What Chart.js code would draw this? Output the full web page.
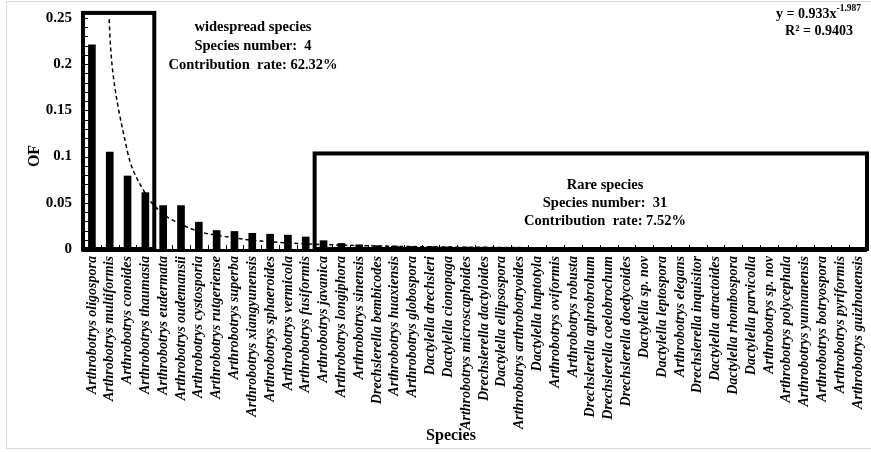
<!DOCTYPE html>
<html>
<head>
<meta charset="utf-8">
<script src="https://cdn.jsdelivr.net/npm/chart.js@4.4.1/dist/chart.umd.min.js"></script>
<style>
html,body{margin:0;padding:0;background:#fff;}
#wrap{width:871px;height:452px;position:relative;}
</style>
</head>
<body>
<div id="wrap"><canvas id="c" width="871" height="452"></canvas></div>
<script>
// ---- data ----
const species = [
  'Arthrobotrys oligospora','Arthrobotrys multiformis','Arthrobotrys conoides','Arthrobotrys thaumasia',
  'Arthrobotrys eudermata','Arthrobotrys oudemansii','Arthrobotrys cystosporia','Arthrobotrys rutgeriense',
  'Arthrobotrys superba','Arthrobotrys xiangyunensis','Arthrobotrys sphaeroides','Arthrobotrys vermicola',
  'Arthrobotrys fusiformis','Arthrobotrys javanica','Arthrobotrys longiphora','Arthrobotrys sinensis',
  'Drechslerella bembicodes','Arthrobotrys huaxiensis','Arthrobotrys globospora','Dactylella drechsleri',
  'Dactylella cionopaga','Arthrobotrys microscaphoides','Drechslerella dactyloides','Dactylella ellipsospora',
  'Arthrobotrys arthrobotryoides','Dactylella haptotyla','Arthrobotrys oviformis','Arthrobotrys robusta',
  'Drechslerella aphrobrohum','Drechslerella coelobrochum','Drechslerella doedycoides','Dactylella sp. nov',
  'Dactylella leptospora','Arthrobotrys elegans','Drechslerella inquisitor','Dactylella atractoides',
  'Dactylella rhombospora','Dactylella parvicolla','Arthrobotrys sp. nov','Arthrobotrys polycephala',
  'Arthrobotrys yunnanensis','Arthrobotrys botryospora','Arthrobotrys pyriformis','Arthrobotrys guizhouensis'
];
const ofValues = [
  0.221, 0.105, 0.079, 0.061, 0.047, 0.047, 0.029, 0.020, 0.019, 0.017, 0.016, 0.015,
  0.013, 0.009, 0.006, 0.0045, 0.0036, 0.0031, 0.0028, 0.0026, 0.0023, 0.0021, 0.0019, 0.0017,
  0.0016, 0.0014, 0.0013, 0.0012, 0.0011, 0.0010, 0.0009, 0.0009, 0.0008, 0.0007, 0.0007, 0.0006,
  0.0006, 0.0005, 0.0005, 0.0004, 0.0004, 0.0003, 0.0003, 0.0003
];
// dashed power trendline, read at each category position
const trendValues = [
  0.93, 0.235, 0.105, 0.060, 0.038, 0.027, 0.019, 0.015, 0.012, 0.0095, 0.0078, 0.0066,
  0.0056, 0.0048, 0.0042, 0.0037, 0.0033, 0.0029, 0.0026, 0.0024, 0.0021, 0.0019, 0.0018, 0.0016,
  0.0015, 0.0014, 0.0013, 0.0012, 0.0011, 0.0010, 0.0010, 0.0009, 0.0009, 0.0008, 0.0008, 0.0007,
  0.0007, 0.0007, 0.0006, 0.0006, 0.0006, 0.0005, 0.0005, 0.0005
];
const yTickLabels = ['0', '0.05', '0.1', '0.15', '0.2', '0.25'];
const yTickValues = [0, 0.05, 0.1, 0.15, 0.2, 0.25];
const widespreadText = ['widespread species', 'Species number:  4', 'Contribution  rate: 62.32%'];
const rareText = ['Rare species', 'Species number:  31', 'Contribution  rate: 7.52%'];
const equationMain = 'y = 0.933x';
const equationExp = '-1.987';
const equationR2 = 'R\u00B2 = 0.9403';
const xTitle = 'Species';
const yTitle = 'OF';

const SERIF = '"Liberation Serif", "Times New Roman", serif';

const overlay = {
  id: 'overlay',
  afterDraw(chart) {
    const {ctx, chartArea: a, scales: {x, y}} = chart;
    const half = (x.getPixelForValue(1) - x.getPixelForValue(0)) / 2;
    const y0 = y.getPixelForValue(0);
    ctx.save();
    // outer light frame
    ctx.strokeStyle = '#d9d9d9';
    ctx.lineWidth = 1;
    ctx.strokeRect(6.5, 1.5, 900, 447);

    // axis lines
    ctx.strokeStyle = '#000';
    ctx.lineWidth = 3;
    ctx.beginPath();
    ctx.moveTo(a.left, a.top);
    ctx.lineTo(a.left, y0 + 1.5);
    ctx.lineTo(a.right, y0 + 1.5);
    ctx.stroke();

    // inner minor ticks on y
    ctx.lineWidth = 1;
    for (let k = 1; k <= 25; k++) {
      const py = Math.round(y.getPixelForValue(k / 100)) + 0.5;
      ctx.beginPath();
      ctx.moveTo(a.left, py);
      ctx.lineTo(a.left + 5, py);
      ctx.stroke();
    }
    // inner ticks on x at category boundaries
    for (let i = 0; i <= species.length; i++) {
      const px = Math.round(x.getPixelForValue(i) - half) + 0.5;
      ctx.beginPath();
      ctx.moveTo(px, y0);
      ctx.lineTo(px, y0 - 4);
      ctx.stroke();
    }

    // boxes
    ctx.lineWidth = 4;
    const wl = x.getPixelForValue(0) - half;
    const wr = x.getPixelForValue(3) + half;
    const wt = y.getPixelForValue(0.2555);
    ctx.strokeRect(wl, wt, wr - wl, y0 - wt);
    const rl = x.getPixelForValue(13) - half;
    const rr = a.right;
    const rt = y.getPixelForValue(0.1034);
    ctx.strokeRect(rl, rt, rr - rl, y0 - rt);

    // box texts
    ctx.fillStyle = '#000';
    ctx.textAlign = 'center';
    ctx.textBaseline = 'middle';
    ctx.font = 'bold 14.5px ' + SERIF;
    const wy = [27, 46, 65];
    widespreadText.forEach((t, i) => ctx.fillText(t, 253, wy[i]));
    const ry = [185, 203, 221];
    rareText.forEach((t, i) => ctx.fillText(t, 605, ry[i]));

    // equation
    ctx.textAlign = 'left';
    ctx.font = 'bold 14px ' + SERIF;
    const mw = ctx.measureText(equationMain).width;
    ctx.font = 'bold 9.5px ' + SERIF;
    const ew = ctx.measureText(equationExp).width;
    const ex0 = 861 - mw - ew;
    ctx.font = 'bold 14px ' + SERIF;
    ctx.fillText(equationMain, ex0, 14);
    ctx.font = 'bold 9.5px ' + SERIF;
    ctx.fillText(equationExp, ex0 + mw, 9);
    ctx.font = 'bold 14px ' + SERIF;
    ctx.textAlign = 'center';
    ctx.fillText(equationR2, 819, 31);

    // axis titles
    ctx.font = 'bold 16px ' + SERIF;
    ctx.fillText(xTitle, 451, 436);
    ctx.save();
    ctx.translate(35, 156);
    ctx.rotate(-Math.PI / 2);
    ctx.fillText(yTitle, 0, 0);
    ctx.restore();
    ctx.restore();
  }
};

new Chart(document.getElementById('c'), {
  data: {
    labels: species,
    datasets: [
      {
        type: 'line',
        data: trendValues,
        borderColor: '#000',
        borderWidth: 1.5,
        borderDash: [4, 3],
        pointRadius: 0,
        fill: false,
        tension: 0.4,
        capBezierPoints: false,
        order: 0
      },
      {
        type: 'bar',
        data: ofValues,
        backgroundColor: '#000',
        borderWidth: 0,
        barThickness: 7,
        order: 1
      }
    ]
  },
  options: {
    responsive: false,
    animation: false,
    devicePixelRatio: 1,
    layout: {padding: {top: 18, right: 4, left: 0, bottom: 0}},
    elements: {line: {capBezierPoints: false}},
    plugins: {legend: {display: false}, tooltip: {enabled: false}},
    scales: {
      x: {
        type: 'category',
        offset: true,
        grid: {display: false, drawTicks: false},
        border: {display: false},
        afterFit(scale) { scale.height = 203; scale.paddingLeft = 0; scale.paddingRight = 0; },
        ticks: {
          autoSkip: false,
          maxRotation: 90,
          minRotation: 90,
          padding: 7,
          color: '#000',
          font: {family: SERIF, size: 14, style: 'italic', weight: 'bold'}
        }
      },
      y: {
        min: 0,
        max: 0.25,
        grid: {display: false, drawTicks: false},
        border: {display: false},
        afterFit(scale) { scale.width = 83; scale.paddingTop = 0; scale.paddingBottom = 0; },
        afterBuildTicks(scale) { scale.ticks = yTickValues.map(v => ({value: v})); },
        ticks: {
          padding: 11,
          color: '#000',
          font: {family: SERIF, size: 15, weight: 'bold'},
          callback: (v, i) => yTickLabels[i]
        }
      }
    }
  },
  plugins: [overlay]
});
</script>
</body>
</html>
